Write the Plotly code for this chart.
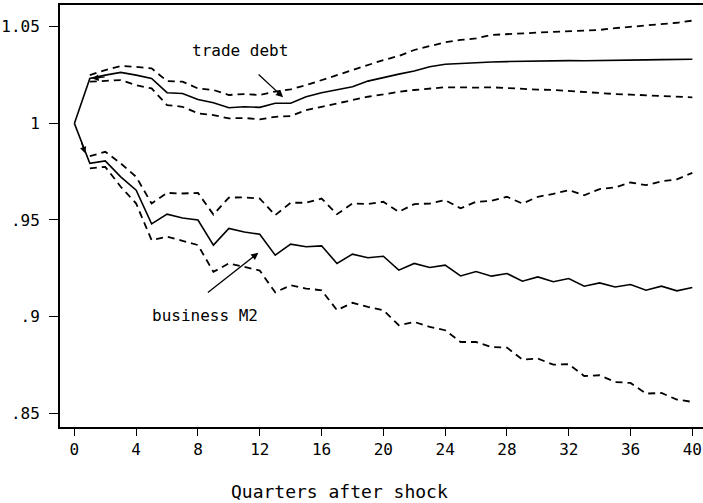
import plotly.graph_objects as go

quarters = list(range(41))

trade_debt = [1.0, 1.0233, 1.025, 1.0264, 1.025, 1.0233, 1.0159, 1.0155, 1.0124, 1.0107,
              1.0081, 1.0086, 1.0083, 1.0104, 1.0104, 1.0138, 1.0159, 1.0173, 1.019, 1.0219,
              1.0238, 1.0255, 1.0271, 1.0293, 1.0306, 1.0311, 1.0314, 1.0318, 1.032, 1.0322,
              1.0322, 1.0323, 1.0325, 1.0324, 1.0326, 1.0327, 1.0328, 1.0329, 1.033, 1.0331,
              1.0332]
# bands are not drawn at quarter 0 in the reference
trade_debt_upper = [None, 1.025, 1.0276, 1.0297, 1.0293, 1.0285, 1.0219, 1.0216, 1.0181, 1.0173,
                    1.0147, 1.0152, 1.0147, 1.0165, 1.0176, 1.0198, 1.0224, 1.025, 1.0276, 1.0302,
                    1.0328, 1.0349, 1.038, 1.04, 1.042, 1.0432, 1.044, 1.0458, 1.0463, 1.0466,
                    1.047, 1.0474, 1.0478, 1.048, 1.0484, 1.0493, 1.05, 1.0508, 1.0515, 1.0521,
                    1.0532]
trade_debt_lower = [None, 1.0216, 1.0219, 1.0224, 1.0198, 1.0181, 1.0095, 1.0086, 1.0052, 1.0043,
                    1.0026, 1.0028, 1.0021, 1.0034, 1.0038, 1.0069, 1.0086, 1.0104, 1.0121, 1.0138,
                    1.015, 1.0164, 1.0173, 1.0181, 1.0187, 1.0187, 1.0185, 1.0187, 1.0182, 1.0177,
                    1.0175, 1.0173, 1.0168, 1.0162, 1.0155, 1.0152, 1.0149, 1.0146, 1.0143, 1.014,
                    1.0135]

business_m2 = [1.0, 0.9793, 0.9806, 0.9723, 0.9654, 0.948, 0.953, 0.951, 0.95, 0.937,
               0.9456, 0.9438, 0.9426, 0.9318, 0.9375, 0.9361, 0.9366, 0.9275, 0.9323, 0.9304,
               0.9312, 0.924, 0.9275, 0.9254, 0.9266, 0.921, 0.9233, 0.9209, 0.9223, 0.9183,
               0.9205, 0.918, 0.9197, 0.9157, 0.9174, 0.9153, 0.9166, 0.9136, 0.9157, 0.9133,
               0.915]
business_m2_upper = [None, 0.983, 0.9853, 0.9793, 0.9723, 0.9585, 0.964, 0.9637, 0.964, 0.9528,
                     0.9616, 0.9617, 0.9611, 0.9525, 0.9589, 0.9589, 0.9611, 0.953, 0.9585, 0.9582,
                     0.9594, 0.9542, 0.9582, 0.9585, 0.9603, 0.956, 0.9594, 0.9599, 0.962, 0.9585,
                     0.962, 0.9635, 0.9654, 0.9628, 0.966, 0.9668, 0.9694, 0.968, 0.97, 0.971,
                     0.9744]
business_m2_lower = [None, 0.9767, 0.9775, 0.9672, 0.9585, 0.9395, 0.9414, 0.9392, 0.937, 0.9231,
                     0.9275, 0.9257, 0.9238, 0.9125, 0.9162, 0.9145, 0.9136, 0.9033, 0.9071, 0.905,
                     0.9033, 0.8955, 0.8972, 0.8946, 0.8929, 0.8868, 0.8868, 0.8842, 0.8839, 0.8777,
                     0.8782, 0.8751, 0.8753, 0.8692, 0.8696, 0.8661, 0.8656, 0.8601, 0.8604, 0.857,
                     0.8558]

x_tick_vals = list(range(0, 41, 4))
y_tick_vals = [0.85, 0.9, 0.95, 1.0, 1.05]
y_tick_text = [".85", ".9", ".95", "1", "1.05"]

FONT = "DejaVu Sans Mono"
fig = go.Figure()

def add_line(y, dashed):
    fig.add_trace(go.Scatter(
        x=quarters, y=y, mode="lines", showlegend=False, hoverinfo="skip",
        line=dict(color="black", width=1.8 if dashed else 1.6,
                  dash="7px,5px" if dashed else "solid")))

for series, dashed in [(trade_debt_upper, True), (trade_debt_lower, True), (trade_debt, False),
                       (business_m2_upper, True), (business_m2_lower, True), (business_m2, False)]:
    add_line(series, dashed)

annotations = [
    dict(x=10.72, y=1.038, xref="x", yref="y", text="trade debt", showarrow=False,
         font=dict(family=FONT, size=16, color="black")),
    dict(x=13.51, y=1.0136, xref="x", yref="y", ax=-26, ay=-24, text="", showarrow=True,
         arrowhead=2, arrowsize=1.1, arrowwidth=1.3, arrowcolor="black"),
    dict(x=8.45, y=0.9007, xref="x", yref="y", text="business M2", showarrow=False,
         font=dict(family=FONT, size=16, color="black")),
    dict(x=11.91, y=0.933, xref="x", yref="y", ax=-52, ay=41, text="", showarrow=True,
         arrowhead=2, arrowsize=1.1, arrowwidth=1.3, arrowcolor="black"),
    dict(x=1.15, y=1.0232, xref="x", yref="y", ax=14, ay=-2, text="", showarrow=True,
         arrowhead=2, arrowsize=1.0, arrowwidth=1.3, arrowcolor="black"),
    dict(x=0.7, y=0.9845, xref="x", yref="y", ax=-4, ay=-12, text="", showarrow=True,
         arrowhead=2, arrowsize=1.0, arrowwidth=1.3, arrowcolor="black"),
    dict(x=17.13, y=-0.1517, xref="x", yref="paper", text="Quarters after shock",
         showarrow=False, yanchor="middle",
         font=dict(family=FONT, size=18, color="black")),
]

fig.update_layout(
    width=703, height=503,
    margin=dict(l=60, r=0, t=5, b=76),
    paper_bgcolor="white", plot_bgcolor="white",
    font=dict(family=FONT, size=16, color="black"),
    annotations=annotations,
    xaxis=dict(range=[-0.93, 40.69], tickvals=x_tick_vals, ticks="outside", ticklen=7,
               tickwidth=1.3, tickcolor="black", showline=True, linecolor="black", linewidth=2,
               mirror=True, showgrid=False, zeroline=False,
               tickfont=dict(family=FONT, size=16, color="black")),
    yaxis=dict(range=[0.8428, 1.0613], tickvals=y_tick_vals, ticktext=y_tick_text,
               ticks="outside", ticklen=9, tickwidth=1.3, tickcolor="black",
               ticklabelstandoff=6,
               showline=True, linecolor="black", linewidth=2, showgrid=False, zeroline=False,
               tickfont=dict(family=FONT, size=16, color="black")),
)

fig.write_html("out.html", config={"displayModeBar": False},
               post_script="document.body.style.margin='0';document.body.style.overflow='hidden';")
